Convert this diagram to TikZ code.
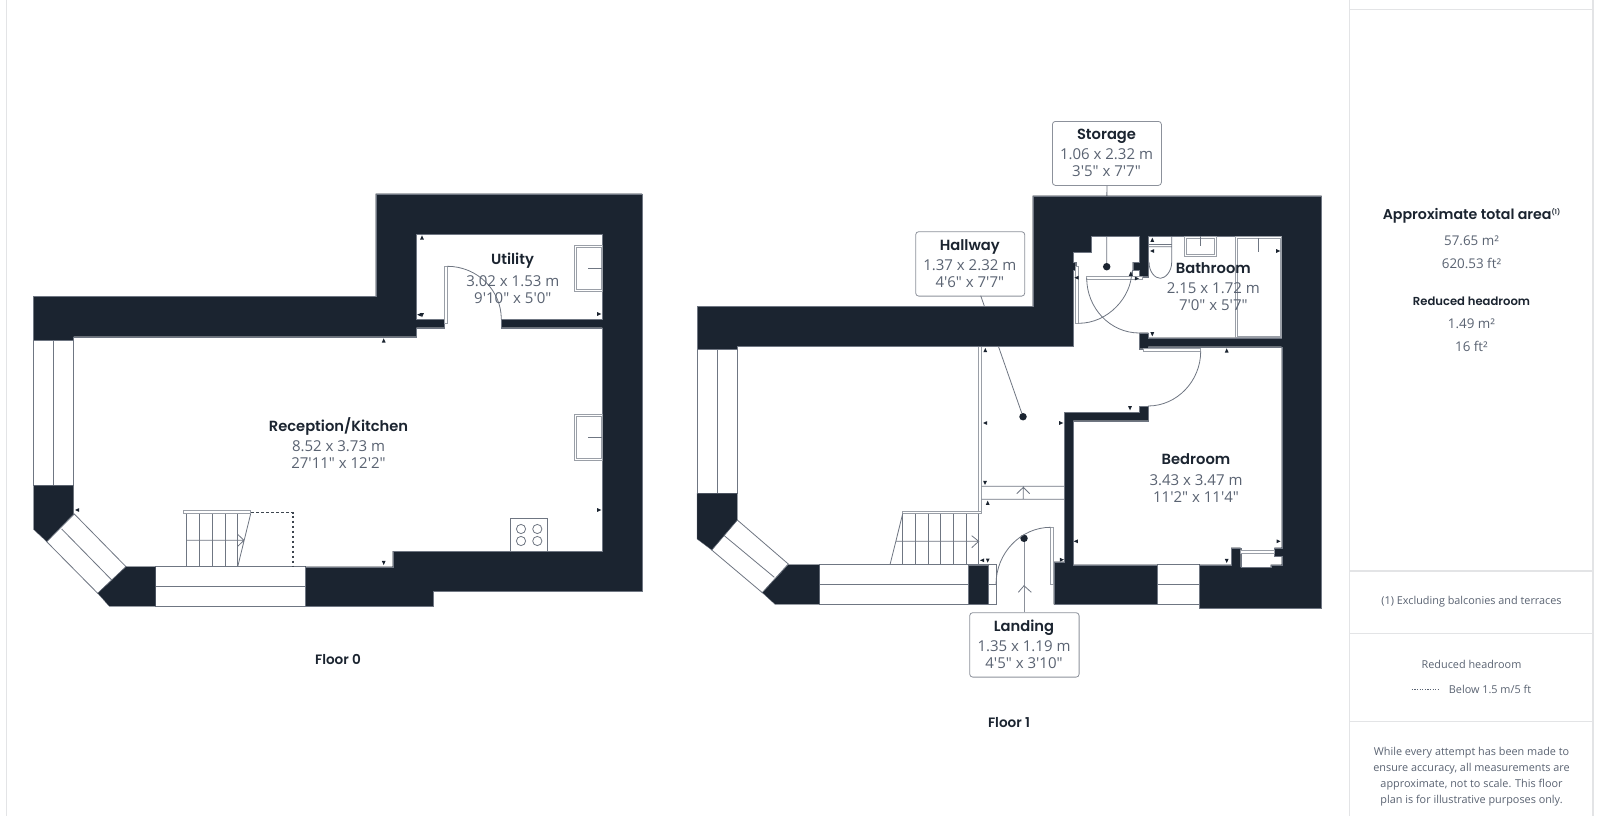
\documentclass[tikz,border=0pt]{standalone}
\usepackage{fontspec}
\setmainfont{Open Sans}
\newfontfamily\valfont{Open Sans}
\newfontfamily\titlefont{Poppins SemiBold}
\definecolor{wall}{HTML}{1B2430}
\definecolor{ln}{HTML}{6F7682}
\definecolor{val}{HTML}{5A6372}
\definecolor{panel}{HTML}{E3E4E6}
\tikzset{
  x=1pt,y=-1pt,
  wallfill/.style={fill=wall,draw=ln,line width=0.3pt},
  thin line/.style={draw=ln,line width=0.8pt},
  glass/.style={draw=ln!70,line width=0.9pt,fill=white},
  paneline/.style={draw=panel,line width=1.2pt},
  roomtitle/.style={font=\titlefont\fontsize{14.7}{16}\selectfont,text=wall,inner sep=0pt,anchor=center},
  roomval/.style={font=\valfont\fontsize{15}{16}\selectfont,text=val,inner sep=0pt,anchor=center},
  smallval/.style={font=\valfont\fontsize{10.85}{14}\selectfont,text=val,inner sep=0pt,anchor=center},
  midval/.style={font=\valfont\fontsize{13.4}{14}\selectfont,text=val,inner sep=0pt,anchor=center},
  callout/.style={draw=ln!80,line width=0.8pt,fill=white,rounded corners=3pt,inner sep=0pt,anchor=north west},
  pin/.style={circle,fill=wall,inner sep=0pt,minimum size=7.5pt},
}
\newcommand{\mk}[3]{\fill[wall,shift={(#1,#2)},rotate=#3] (2.3,0)--(-1.8,1.9)--(-1.8,-1.9)--cycle;}
\begin{document}
\begin{tikzpicture}
\useasboundingbox (0,0) rectangle (1600,816);
\fill[white] (0,0) rectangle (1600,816);
% frame
\draw[paneline] (6.5,0)--(6.5,816);
\draw[paneline] (1349.5,0)--(1349.5,816);
\draw[paneline] (1593,0)--(1593,816);
\draw[paneline] (1349.5,9.5)--(1593,9.5);
\draw[paneline] (1349.5,571)--(1593,571);
\draw[paneline] (1349.5,633.5)--(1593,633.5);
\draw[paneline] (1349.5,721.5)--(1593,721.5);

%% ---------- FLOOR 0 ----------
% windows
\draw[thin line] (33.5,340) rectangle (73.5,485.7) (53.5,340)--(53.5,485.7);
\draw[thin line] (126,566.7)--(97.7,593.3)--(46.7,541.7)--(74.3,514)--cycle (61.7,529)--(111.7,580);
\draw[thin line] (155.7,566.7) rectangle (305.2,606.3) (155.7,586.7)--(305.2,586.7);
% walls
\path[wallfill] (33.5,296.5)--(375.7,296.5)--(375.7,193.7)--(642,193.7)--(642,591)--(432.8,591)--(432.8,606.3)--(305.2,606.3)--(305.2,566.7)--(392.7,566.7)--(392.7,551)--(602.3,551)--(602.3,327.7)--(501.3,327.7)--(501.3,319)--(602.3,319)--(602.3,234)--(416.3,234)--(416.3,319)--(444.3,319)--(444.3,327.7)--(416.3,327.7)--(416.3,336.7)--(73.5,336.7)--(73.5,340)--(33.5,340)--cycle;
\path[wallfill] (33.5,485.7)--(73.5,485.7)--(73.5,514)--(46.7,541.7)--(33.5,529.3)--cycle;
\path[wallfill] (155.7,566.7)--(126,566.7)--(97.7,593.3)--(109.3,606.3)--(155.7,606.3)--cycle;
% door
\draw[glass] (444.3,266.3) rectangle (447.3,323.3);
\draw[thin line] (447.3,266.3) .. controls (477,266.3) and (501.3,290) .. (501.3,319);
% stairs
\draw[thin line] (186.3,513.7)--(186.3,566.7) (199.3,513.7)--(199.3,566.7) (212.3,513.7)--(212.3,566.7) (225,513.7)--(225,566.7) (237.7,513.7)--(237.7,566.7);
\draw[thin line] (250.7,513.7)--(237.7,566.7) (186.3,540.3)--(244,540.3) (237.3,534)--(244,540.3)--(237.3,546.7);
\draw[glass] (183.3,510.7) rectangle (250.7,513.7);
\draw[wall!85,line width=1.2pt,dash pattern=on 2.5pt off 2.5pt] (251,512.7)--(293,512.7)--(293,566);
% fittings
\draw[glass] (574.3,245.3) rectangle (602.3,291.3) (576.3,247.3) rectangle (601,289.3);
\draw[thin line] (588.3,268.3)--(602.3,268.3);
\draw[glass] (574.3,414.7) rectangle (602.3,460.3) (576.3,416.7) rectangle (601,458.3);
\draw[thin line] (588.3,437.3)--(602.3,437.3);
\draw[thin line] (510.3,518.7) rectangle (547.7,551);
\draw[thin line] (521,529) circle[radius=4.6] (537.3,529) circle[radius=4.6] (521,541) circle[radius=4.6] (537.3,541) circle[radius=4.6];
% markers
\mk{422}{237.7}{90}\mk{422}{315}{-90}\mk{419.5}{314.7}{180}\mk{599}{314}{0}\mk{383.7}{340.7}{90}\mk{599}{510}{0}\mk{383.7}{562.7}{-90}\mk{77.3}{510}{180}
% labels
\node[roomtitle] (utilT) at (512.5,261) {Utility};
\node[roomval] (utilA) at (512.8,280.8) {3.02 x 1.53 m};
\node[roomval] (utilB) at (512.8,297.8) {9'10" x 5'0"};
\node[roomtitle] (recT) at (338.5,426) {Reception/Kitchen};
\node[roomval] (recA) at (338.5,446) {8.52 x 3.73 m};
\node[roomval] (recB) at (338.5,463) {27'11" x 12'2"};
\node[roomtitle,font=\titlefont\fontsize{13.6}{15}\selectfont] (f0) at (338,660) {Floor 0};

%% ---------- FLOOR 1 ----------
% callouts and their leaders (walls cover them)
\node[callout,minimum width=109pt,minimum height=64.4pt] (hallbox) at (915.3,231.3) {};
\node[callout,minimum width=109pt,minimum height=64pt] (storebox) at (1052,121) {};
\node[callout,minimum width=109.4pt,minimum height=64.4pt] (landbox) at (969.3,612.3) {};
\node[pin] (halldot) at (1023,416.7) {};
\node[pin] (storedot) at (1106.7,266.7) {};
\node[pin] (landdot) at (1024,538.3) {};
\coordinate (hallstart) at (980.7,295.7);
\draw[thin line] (hallstart)--(halldot);
\draw[thin line] (storebox.south)--(storedot);
\draw[draw=ln!80,line width=1pt] (landbox.north -| landdot)--(landdot);
% windows
\draw[thin line] (697,349) rectangle (737.3,493.3) (717.3,349)--(717.3,493.3);
\draw[thin line] (737.3,520)--(788.3,564)--(762.3,592.7)--(711.7,550)--cycle (724.3,535.7)--(774.3,577.3);
\draw[thin line] (819.3,564.7) rectangle (996,604.3) (819.3,584.3)--(996,584.3);
\draw[thin line] (1157.3,564.7) rectangle (1199.2,604.3) (1157.3,584.3)--(1199.2,584.3);
% walls
\path[wallfill] (697,306.3)--(1032.7,306.3)--(1032.7,195.7)--(1321.6,195.7)--(1321.6,608)--(1199.2,608)--(1199.2,564.7)--(1231,564.7)--(1231,547.7)--(1240.7,547.7)--(1240.7,567.3)--(1270.7,567.3)--(1270.7,564.7)--(1281.7,564.7)--(1281.7,556)--(1274.3,556)--(1274.3,547.7)--(1281.7,547.7)--(1281.7,346.7)--(1148,346.7)--(1148,348.7)--(1139.3,348.7)--(1139.3,332.7)--(1148.3,332.7)--(1148.3,337.7)--(1281,337.7)--(1281,236.3)--(1148.3,236.3)--(1148.3,276.7)--(1139.3,276.7)--(1139.3,270)--(1132.7,270)--(1132.7,262)--(1139.3,262)--(1139.3,236.3)--(1091,236.3)--(1091,252.3)--(1073.3,252.3)--(1073.3,262)--(1075.7,262)--(1075.7,270)--(1073.3,270)--(1073.3,346.5)--(737.3,346.5)--(737.3,349)--(697,349)--cycle;
\path[wallfill] (1053.7,604.3)--(1157.3,604.3)--(1157.3,564.7)--(1073,564.7)--(1073,420.7)--(1148,420.7)--(1148,406)--(1139.3,406)--(1139.3,412.3)--(1064.3,412.3)--(1064.3,561.7)--(1053.7,561.7)--cycle;
\path[wallfill] (697,493.3)--(737.3,493.3)--(737.3,520)--(711.7,550)--(697,539)--cycle;
\path[wallfill] (788.3,564.7)--(819.3,564.7)--(819.3,604.3)--(775,604.3)--(762.3,592.7)--cycle;
\path[wallfill] (968,564.7) rectangle (987.7,604.3);
\draw[thin line] (1139.3,276.7)--(1139.3,270) (1132.7,270)--(1132.7,276.7)--(1148.3,276.7);
% partition and stairs
\draw[glass,fill=none] (978.7,347)--(978.7,511.3) (981.7,347)--(981.7,513.7);
\draw[glass] (902.7,511.3) rectangle (981.7,513.7);
\draw[thin line] (902.7,513.7)--(902.7,564.7) (915.3,513.7)--(915.3,564.7) (928,513.7)--(928,564.7) (940.7,513.7)--(940.7,564.7) (953.3,513.7)--(953.3,564.7) (966,513.7)--(966,564.7) (978.7,513.7)--(978.7,564.7);
\draw[thin line] (902.7,513.7)--(890,564.7) (895.7,541.3)--(978.7,541.3) (971.7,535.7)--(978.7,541.3)--(971.7,547.7);
% landing strip
\draw[thin line] (981.7,486.3)--(1064.7,486.3) (981.7,499.3)--(1064.7,499.3) (1023.3,487.3)--(1023.3,499.3) (1016.7,493.7)--(1023.3,487.3)--(1029.7,493.7);
% landing door + chevron
\draw[glass] (1050.7,527.3) rectangle (1053.7,584.3);
\draw[thin line] (1050.7,527.3) .. controls (1020.7,527.3) and (996,553) .. (996,584.3);
\draw[thin line] (1018.3,592.3)--(1024,585.7)--(1031.3,592.3);
% storage doors
\draw[glass] (1086.7,276.7) rectangle (1142.7,279.7);
\draw[thin line] (1086.7,278) .. controls (1086.7,308) and (1110,333) .. (1139.3,333);
\draw[glass] (1075.7,266) rectangle (1078.7,323.3);
\draw[thin line] (1078.7,323.3) .. controls (1108,323.3) and (1131.7,297) .. (1131.7,271.7);
% bedroom door
\draw[glass] (1143.3,348.3) rectangle (1200.7,351.3);
\draw[thin line] (1200.7,351.3) .. controls (1200.7,381) and (1177,406) .. (1148,406);
% bathroom fittings
\draw[thin line] (1148.3,246.7)--(1171.7,246.7) (1171.7,236.3)--(1171.7,262) .. controls (1171.7,272) and (1165,278.3) .. (1160.3,278.3) .. controls (1155,278.3) and (1149,272) .. (1149,262);
\draw[thin line] (1148.3,244.8)--(1171.7,244.8);
\draw[glass] (1184,236.3) rectangle (1216.7,256) (1186,238) rectangle (1214.7,254);
\draw[thin line] (1200.7,236.3)--(1200.7,246);
\draw[glass,fill=none] (1235.3,236.3) rectangle (1281,337.7) (1237.3,238) rectangle (1280,336);
\draw[thin line] (1258.3,238)--(1258.3,252);
% window in bedroom corner
\draw[glass] (1240.7,550.3) rectangle (1274.3,553);
% markers
\mk{1152.3}{240}{90}\mk{1152.3}{251}{180}\mk{1278}{251}{0}\mk{1152.3}{334}{-90}\mk{1226.7}{350.7}{90}\mk{1130}{408}{-90}\mk{1130.7}{274}{90}\mk{1136.7}{278.5}{0}\mk{1076.7}{277.7}{180}
\mk{985.3}{350.3}{90}\mk{985.3}{423}{180}\mk{1061}{423}{0}\mk{985}{482.7}{-90}\mk{987.7}{503}{90}\mk{1076}{541.3}{180}\mk{1278.3}{541.3}{0}\mk{1061.7}{559.7}{0}\mk{1226.7}{560.7}{-90}\mk{982.3}{560.3}{180}\mk{987.7}{560.3}{-90}
% labels
\node[roomtitle] (stoT) at (1106.5,136.5) {Storage};
\node[roomval] (stoA) at (1106.5,154) {1.06 x 2.32 m};
\node[roomval] (stoB) at (1106.5,171) {3'5" x 7'7"};
\node[roomtitle] (halT) at (969.8,247) {Hallway};
\node[roomval] (halA) at (969.8,265) {1.37 x 2.32 m};
\node[roomval] (halB) at (969.8,282) {4'6" x 7'7"};
\node[roomtitle] (batT) at (1213.3,267.7) {Bathroom};
\node[roomval] (batA) at (1213.3,288.3) {2.15 x 1.72 m};
\node[roomval] (batB) at (1213.3,305) {7'0" x 5'7"};
\node[roomtitle] (bedT) at (1196,459.5) {Bedroom};
\node[roomval] (bedA) at (1196,480) {3.43 x 3.47 m};
\node[roomval] (bedB) at (1196,496.7) {11'2" x 11'4"};
\node[roomtitle] (lanT) at (1024,627.7) {Landing};
\node[roomval] (lanA) at (1024,646) {1.35 x 1.19 m};
\node[roomval] (lanB) at (1024,662.7) {4'5" x 3'10"};
\node[roomtitle,font=\titlefont\fontsize{13.6}{15}\selectfont] (f1) at (1009,722.5) {Floor 1};

%% ---------- PANEL ----------
\node[roomtitle,font=\titlefont\fontsize{14.2}{16}\selectfont] (tot) at (1471.5,216) {Approximate total area\raisebox{5pt}{\fontsize{6.5}{7}\selectfont (1)}};
\node[midval] (m2) at (1471.5,240.7) {57.65 m²};
\node[midval] (ft2) at (1471.5,263.3) {620.53 ft²};
\node[roomtitle,font=\titlefont\fontsize{11.6}{13}\selectfont] (red) at (1471.5,301) {Reduced headroom};
\node[midval] (rm2) at (1471.5,324) {1.49 m²};
\node[midval] (rft2) at (1471.5,346.7) {16 ft²};
\node[smallval] (excl) at (1471.5,602) {(1) Excluding balconies and terraces};
\node[smallval] (redh) at (1471.5,664.7) {Reduced headroom};
\node[smallval,anchor=west] (below) at (1448.7,689.8) {Below 1.5 m/5 ft};
\coordinate (legA) at (1411.7,689.5);
\draw[val,line width=0.8pt,dash pattern=on 1.3pt off 1.3pt] (legA)--(1440,689.5);
\node[smallval] (d1) at (1471.5,752.7) {While every attempt has been made to};
\node[smallval] (d2) at (1471.5,768.3) {ensure accuracy, all measurements are};
\node[smallval] (d3) at (1471.5,784.3) {approximate, not to scale. This floor};
\node[smallval] (d4) at (1471.5,800.3) {plan is for illustrative purposes only.};
\end{tikzpicture}
\end{document}
